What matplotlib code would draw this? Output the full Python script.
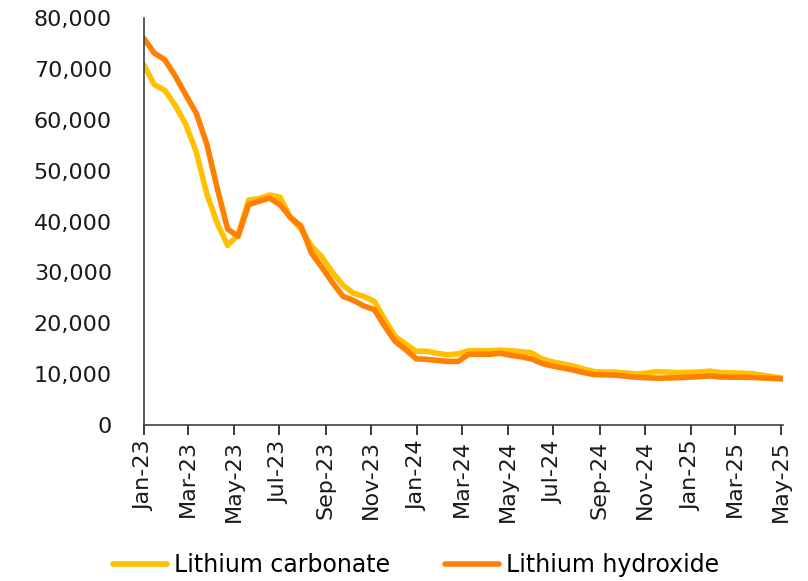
import matplotlib
matplotlib.use("Agg")
import matplotlib.pyplot as plt
import matplotlib.dates as mdates
import matplotlib.ticker as mticker
import pandas as pd

# fortnightly price points, Jan-23 .. May-25
dates = pd.date_range("2023-01-01", periods=62, freq="14D")

carbonate = [70800, 66900, 65800, 62800, 59100, 53700, 45500, 39700, 35300, 37400,
             44200, 44500, 45200, 44800, 40700, 38500, 35200, 33000, 30000, 27500,
             25900, 25300, 24300, 20700, 17400, 15900, 14500, 14500, 14100, 13800,
             14000, 14600, 14600, 14600, 14700, 14600, 14400, 14200, 13000, 12400,
             12000, 11600, 11000, 10500, 10400, 10400, 10200, 10050, 10200, 10500,
             10400, 10300, 10350, 10400, 10600, 10300, 10250, 10200, 10100, 9800,
             9500, 9200]

hydroxide = [76000, 73100, 71800, 68600, 64900, 61300, 55300, 46600, 38500, 37100,
             43300, 44000, 44600, 43300, 40800, 39100, 33800, 31000, 28000, 25300,
             24500, 23400, 22700, 19400, 16400, 14800, 13000, 12900, 12700, 12500,
             12500, 13900, 13900, 13900, 14100, 13700, 13400, 13000, 12100, 11600,
             11200, 10800, 10300, 9900, 9850, 9800, 9600, 9400, 9300, 9200,
             9250, 9300, 9400, 9500, 9650, 9450, 9400, 9400, 9350, 9250,
             9150, 9050]

plt.rcParams['font.family'] = ['DejaVu Sans']

fig = plt.figure(figsize=(8.08, 5.81), dpi=100)
ax = fig.add_axes([0.178, 0.2685, 0.791, 0.7005])

ax.plot(dates, carbonate, color='#FFC000', lw=4, label='Lithium carbonate', solid_capstyle='round')
ax.plot(dates, hydroxide, color='#FF8000', lw=4, label='Lithium hydroxide', solid_capstyle='round')

ax.set_xlim(pd.Timestamp("2023-01-01"), dates[-1])
ax.set_ylim(0, 80000)
ax.yaxis.set_major_locator(mticker.MultipleLocator(10000))
ax.yaxis.set_major_formatter(mticker.FuncFormatter(lambda v, p: f"{int(v):,}"))
ax.xaxis.set_major_locator(mdates.MonthLocator(bymonth=[1, 3, 5, 7, 9, 11]))
ax.xaxis.set_major_formatter(mdates.DateFormatter("%b-%y"))

for s in ['top', 'right']:
    ax.spines[s].set_visible(False)
ax.spines['left'].set_color('#404040')
ax.spines['bottom'].set_color('#404040')
ax.spines['left'].set_linewidth(1.2)
ax.spines['bottom'].set_linewidth(1.2)

ax.tick_params(axis='y', length=0, labelsize=16, pad=23, colors='#1a1a1a')
ax.tick_params(axis='x', length=7, width=1.2, direction='out', labelsize=16,
               labelrotation=90, pad=4, colors='#1a1a1a')

fig.legend(loc='lower center', bbox_to_anchor=(0.515, -0.03), ncol=2, frameon=False,
           fontsize=17, handlelength=2.3, columnspacing=2.3, handletextpad=0.3)

fig.savefig("out.png", dpi=100)
